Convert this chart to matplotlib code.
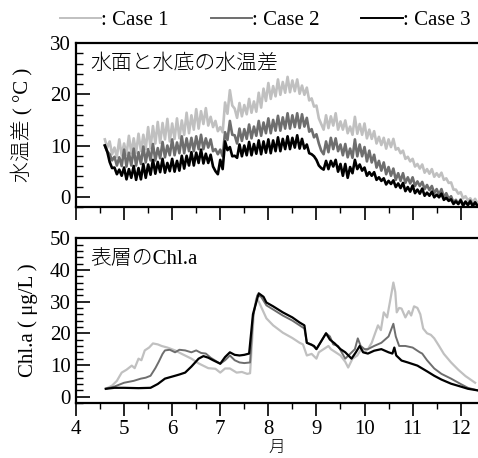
import numpy as np
import matplotlib
matplotlib.use("Agg")
import matplotlib.pyplot as plt
from matplotlib.lines import Line2D
from matplotlib.ticker import MultipleLocator

plt.rcParams['font.family'] = ['Liberation Serif', 'Noto Sans CJK JP']
plt.rcParams['font.size'] = 15

case_labels = [': Case 1', ': Case 2', ': Case 3']
case_colors = ['#c0c0c0', '#6e6e6e', '#000000']

# 水温差 (top), sampled every 0.05 month from 4.60 to 12.35, values read as hi/lo pairs
month_dt = np.linspace(4.60, 12.35, 156)
dt_case1 = [
    11.2, 9.6, 10.8, 8.3, 9.6, 7.8, 11.2, 8.1, 10.4, 8.2,
    11.9, 8.5, 11.4, 8.6, 12.3, 8.9, 12.1, 9.3, 13.6, 9.5,
    13.8, 10.4, 14.6, 10.5, 14.4, 11.2, 15.2, 10.8, 14.3, 11.3,
    15.3, 11.4, 14.9, 12.1, 16.4, 12.4, 15.9, 13.1, 17.1, 13.3,
    16.7, 14.2, 17.3, 13.9, 15.6, 13.6, 14.8, 12.8, 13.6, 12.6,
    18.4, 16.2, 20.8, 17.8, 17.2, 15.4, 18.3, 15.7, 17.9, 16.1,
    19.1, 16.4, 18.6, 16.6, 20.3, 17.4, 21.1, 18.7, 22.2, 19.1,
    21.6, 19.6, 22.9, 19.9, 22.4, 20.3, 23.4, 20.4, 22.7, 20.6,
    22.9, 20.1, 21.7, 19.9, 21.3, 18.8, 19.2, 17.6, 17.8, 15.3,
    14.2, 13.1, 15.9, 13.4, 15.7, 13.9, 16.3, 13.1, 14.7, 13.1,
    14.9, 12.4, 13.7, 12.1, 15.6, 12.3, 14.2, 12.1, 14.3, 11.4,
    13.1, 11.3, 12.8, 10.4, 11.7, 10.1, 11.5, 9.4, 11.2, 9.7,
    11.3, 9.2, 9.5, 8.5, 9.0, 7.4, 7.8, 6.9, 7.4, 5.9,
    6.4, 5.5, 6.3, 4.7, 5.4, 4.5, 5.4, 3.9, 4.6, 3.9,
    4.7, 3.3, 3.6, 2.7, 2.8, 1.4, 1.4, 0.6, 0.9, -0.3,
    0.1, -0.7, -0.3, -1.1, -0.4, -1.3]
dt_case2 = [
    10.0, 8.8, 8.3, 7.1, 7.8, 6.1, 7.7, 6.0, 9.2, 5.9,
    8.6, 6.1, 9.4, 6.1, 8.7, 6.4, 9.8, 6.7, 9.3, 7.1,
    10.3, 7.1, 9.5, 7.5, 10.7, 7.7, 10.0, 8.1, 11.2, 8.1,
    10.6, 8.5, 11.8, 8.5, 11.4, 8.9, 11.5, 8.9, 11.8, 9.3,
    12.1, 9.3, 11.4, 9.6, 11.2, 8.9, 9.3, 8.3, 9.2, 7.9,
    12.6, 11.1, 14.8, 12.1, 12.0, 10.4, 13.3, 10.9, 13.2, 11.3,
    14.1, 11.4, 13.7, 11.9, 14.8, 11.9, 14.5, 12.4, 15.3, 12.4,
    15.0, 12.9, 15.8, 12.9, 15.5, 13.3, 16.3, 13.3, 15.9, 13.6,
    16.3, 13.4, 16.1, 13.7, 15.4, 12.7, 13.2, 11.6, 12.2, 10.4,
    9.0, 8.3, 10.8, 8.7, 11.5, 9.3, 11.4, 8.9, 10.2, 8.1,
    10.3, 7.7, 9.4, 7.6, 11.2, 7.9, 10.2, 7.9, 9.7, 6.9,
    9.0, 6.7, 8.2, 5.7, 7.0, 5.1, 6.7, 4.4, 5.8, 4.1,
    5.5, 3.3, 4.6, 3.1, 4.6, 2.7, 3.8, 2.6, 3.8, 2.1,
    3.0, 2.1, 2.9, 1.5, 2.3, 1.3, 2.1, 0.7, 1.5, 0.4,
    1.5, -0.1, 0.7, -0.4, 0.1, -1.1, -0.6, -1.4, -0.5, -1.7,
    -0.9, -1.6, -0.7, -1.8, -1.1, -1.8]
dt_case3 = [
    10.0, 8.8, 6.8, 5.6, 5.7, 4.4, 5.3, 4.1, 5.7, 3.4,
    5.4, 3.7, 6.0, 3.3, 5.6, 3.4, 6.4, 3.7, 6.3, 4.3,
    7.2, 4.5, 6.8, 4.8, 7.4, 4.7, 6.6, 5.0, 7.4, 4.9,
    7.0, 5.1, 8.0, 5.5, 8.0, 6.1, 8.7, 6.1, 8.6, 6.6,
    9.2, 6.5, 8.4, 6.6, 8.2, 5.9, 5.0, 4.4, 7.2, 5.4,
    10.8, 9.1, 9.7, 7.9, 8.0, 7.6, 10.2, 7.9, 10.0, 8.1,
    10.7, 8.1, 10.3, 8.4, 11.0, 8.3, 10.8, 8.6, 11.2, 8.5,
    11.0, 8.9, 11.6, 8.9, 11.3, 9.3, 11.8, 9.3, 11.5, 9.6,
    12.0, 9.4, 11.3, 9.4, 10.2, 8.5, 8.3, 7.9, 7.2, 6.1,
    5.6, 5.3, 7.0, 5.4, 7.0, 5.9, 7.2, 4.9, 6.4, 4.1,
    6.4, 3.7, 5.8, 4.6, 7.2, 5.4, 6.3, 5.1, 5.7, 4.1,
    4.8, 4.1, 4.8, 3.3, 3.8, 3.1, 3.6, 2.4, 3.1, 2.5,
    3.2, 1.9, 2.6, 1.7, 2.7, 1.1, 1.9, 1.0, 2.2, 0.7,
    1.4, 0.6, 1.6, 0.2, 0.8, 0.2, 1.0, -0.1, 0.4, -0.1,
    0.6, -0.6, -0.2, -0.8, -0.5, -1.4, -0.9, -1.4, -0.7, -1.7,
    -1.0, -1.6, -0.9, -1.8, -1.1, -1.8]

# 表層のChl.a (bottom)
chl_month1 = [4.62, 4.75, 4.85, 4.95, 5.05, 5.16, 5.22, 5.3, 5.36, 5.43, 5.52, 5.6, 5.7,
              5.78, 5.9, 6.06, 6.2, 6.4, 6.55, 6.75, 6.9, 7.0, 7.1, 7.2, 7.34, 7.45, 7.56,
              7.62, 7.7, 7.75, 7.8, 7.96, 8.1, 8.3, 8.5, 8.65, 8.72, 8.8, 8.9, 9.0, 9.05,
              9.15, 9.25, 9.3, 9.4, 9.5, 9.6, 9.66, 9.75, 9.85, 9.93, 10.0, 10.07, 10.15,
              10.22, 10.28, 10.34, 10.4, 10.47, 10.53, 10.6, 10.64, 10.67, 10.72, 10.77,
              10.85, 10.92, 10.97, 11.03, 11.1, 11.16, 11.22, 11.3, 11.38, 11.45, 11.55,
              11.65, 11.8, 11.95, 12.1, 12.3]
chl_case1 = [2.5, 3.5, 5.0, 7.6, 8.5, 9.8, 9.0, 12.0, 11.5, 14.6, 15.5, 16.8, 16.5,
             16.0, 15.5, 14.6, 13.5, 12.0, 10.5, 9.0, 8.8, 7.6, 8.9, 8.9, 7.6, 7.8, 7.2,
             7.4, 27.0, 31.0, 30.0, 24.7, 22.5, 20.2, 18.5, 17.0, 16.5, 13.0, 13.5, 12.0, 14.0,
             15.0, 16.0, 15.0, 14.0, 13.0, 11.0, 9.2, 12.0, 13.0, 15.0, 14.0, 15.0, 17.0,
             20.0, 22.5, 21.0, 26.6, 25.0, 30.0, 36.0, 33.0, 26.6, 28.0, 27.8,
             25.0, 27.0, 25.6, 28.5, 28.0, 26.0, 21.5, 20.0, 19.5, 18.4, 16.0,
             13.5, 10.8, 8.5, 6.5, 4.4]
chl_month2 = [4.62, 4.8, 5.0, 5.2, 5.35, 5.45, 5.55, 5.65, 5.72, 5.8, 5.85, 5.95, 6.06,
              6.15, 6.27, 6.4, 6.5, 6.6, 6.7, 6.8, 7.0, 7.1, 7.2, 7.3, 7.4, 7.5, 7.62,
              7.68, 7.77, 7.85, 7.96, 8.1, 8.3, 8.5, 8.65, 8.75, 8.8, 8.9, 9.0, 9.1, 9.2,
              9.28, 9.35, 9.45, 9.6, 9.7, 9.8, 9.86, 9.92, 10.0, 10.07, 10.2, 10.35, 10.5,
              10.6, 10.65, 10.72, 10.85, 11.0, 11.05, 11.15, 11.2, 11.3, 11.45, 11.6, 11.8,
              12.0, 12.15, 12.35]
chl_case2 = [2.5, 3.2, 4.4, 5.0, 5.7, 6.0, 6.6, 9.0, 11.0, 13.5, 14.6, 14.8, 14.0,
             14.8, 14.6, 14.0, 14.6, 13.8, 13.6, 12.3, 10.4, 11.5, 13.0, 11.5, 10.8, 10.6, 10.8,
             25.0, 32.0, 31.5, 28.8, 27.5, 25.6, 24.0, 22.5, 21.5, 17.0, 16.5, 15.0, 17.5, 20.0,
             19.0, 16.5, 16.0, 12.0, 13.5, 15.0, 18.4, 16.0, 15.0, 15.0, 16.0, 17.0, 19.0,
             23.0, 19.0, 16.0, 16.0, 15.5, 15.0, 14.0, 13.6, 11.5, 8.9, 7.2, 5.7,
             4.0, 2.8, 2.0]
chl_month3 = [4.62, 4.8, 5.0, 5.3, 5.55, 5.7, 5.85, 6.06, 6.15, 6.27, 6.4, 6.55, 6.65,
              6.75, 6.85, 7.0, 7.1, 7.2, 7.3, 7.4, 7.5, 7.6, 7.68, 7.8, 7.9, 7.96, 8.1,
              8.3, 8.5, 8.65, 8.75, 8.8, 8.95, 9.0, 9.1, 9.2, 9.28, 9.38, 9.5, 9.6, 9.73,
              9.82, 9.9, 9.97, 10.07, 10.2, 10.35, 10.5, 10.58, 10.62, 10.66, 10.77, 10.9,
              11.1, 11.3, 11.45, 11.6, 11.8, 12.0, 12.15, 12.35]
chl_case3 = [2.5, 2.8, 2.8, 2.7, 2.8, 4.0, 5.7, 6.6, 7.0, 7.6, 9.5, 12.0, 12.8,
             12.3, 11.5, 10.4, 12.5, 14.0, 13.2, 13.0, 13.2, 13.6, 26.0, 32.6, 31.5, 29.7, 28.5,
             26.6, 25.0, 23.4, 22.5, 17.0, 16.0, 15.0, 17.5, 20.0, 18.0, 16.8, 15.0, 14.0, 12.0,
             14.0, 16.0, 14.0, 13.6, 14.5, 15.0, 14.0, 13.6, 15.5, 13.0, 11.4, 10.8,
             9.8, 8.0, 6.6, 5.4, 4.1, 3.2, 2.5, 2.0]

month_ticks = [4, 5, 6, 7, 8, 9, 10, 11, 12]

fig = plt.figure(figsize=(4.78, 4.58), dpi=100)
ax1 = fig.add_axes([0.159, 0.548, 0.841, 0.358])
ax2 = fig.add_axes([0.159, 0.120, 0.841, 0.360])

for ys, c in zip([dt_case1, dt_case2, dt_case3], case_colors):
    ax1.plot(month_dt, ys, color=c, lw=1.9)

chl = [(chl_month1, chl_case1), (chl_month2, chl_case2), (chl_month3, chl_case3)]
for (xs, ys), c, w in zip(chl, case_colors, [1.6, 1.4, 1.6]):
    ax2.plot(xs, ys, color=c, lw=w)

for ax, ymax in [(ax1, 30), (ax2, 50)]:
    ax.set_xlim(4, 12.36)
    ax.set_ylim(-2, ymax)
    ax.set_xticks(month_ticks)
    ax.xaxis.set_minor_locator(MultipleLocator(0.5))
    ax.yaxis.set_major_locator(MultipleLocator(10))
    ax.yaxis.set_minor_locator(MultipleLocator(2))
    ax.tick_params(axis='y', which='major', direction='in', length=10, width=1.2, pad=4)
    ax.tick_params(axis='y', which='minor', direction='in', length=5, width=1.0)
    ax.tick_params(axis='x', which='major', direction='out', length=9, width=1.2)
    ax.tick_params(axis='x', which='minor', direction='out', length=4.5, width=1.0)
    ax.spines['right'].set_visible(False)
    for s in ['top', 'bottom', 'left']:
        ax.spines[s].set_linewidth(1.6)

ax1.tick_params(axis='x', labelbottom=False)
ax1.set_ylabel('水温差 ( °C )', labelpad=12, fontweight='light')
ax2.set_ylabel('Chl.a ( μg/L )', labelpad=8)
ax2.set_xlabel('月', fontsize=12, labelpad=1, fontweight='light')

ax1.text(0.035, 0.93, '水面と水底の水温差', transform=ax1.transAxes, ha='left', va='top',
         fontweight='light')
ax2.text(0.035, 0.93, '表層のChl.a', transform=ax2.transAxes, ha='left', va='top',
         fontweight='light')

handles = [Line2D([], [], color=c, lw=1.4) for c in case_colors]
fig.legend(handles, case_labels, loc='center', bbox_to_anchor=(0.555, 0.955), ncol=3,
           frameon=False, handlelength=2.0, handletextpad=0.0, columnspacing=2.0,
           fontsize=15)

plt.savefig('out.png', dpi=100)
